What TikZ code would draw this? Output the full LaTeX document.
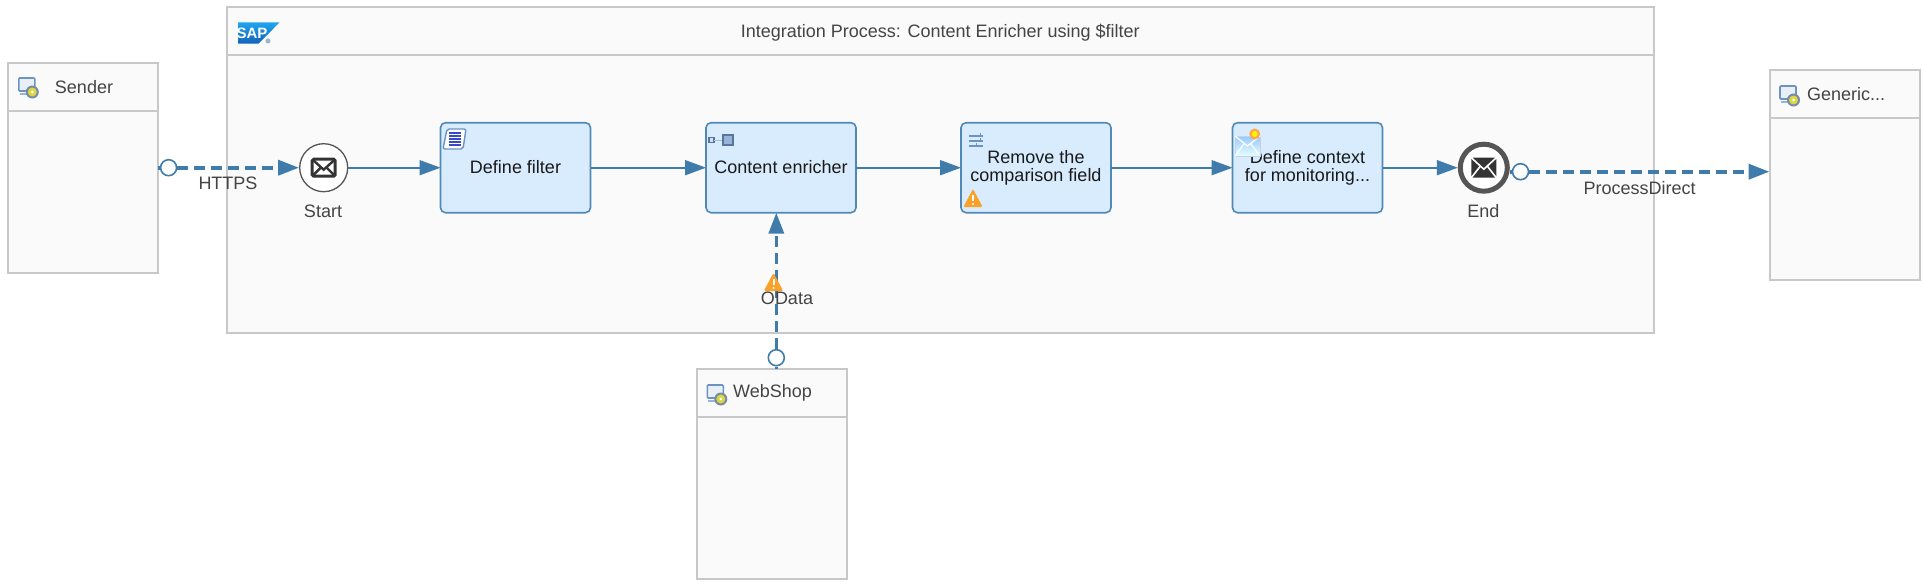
\documentclass[tikz,border=0pt]{standalone}
\usepackage{fontspec}
\setmainfont{Liberation Sans}
\usetikzlibrary{arrows.meta,calc}

\definecolor{flowblue}{HTML}{3F7CAC}
\definecolor{poolgrey}{HTML}{C8C8C8}
\definecolor{poolfill}{HTML}{FAFAFA}
\definecolor{taskfill}{HTML}{D8ECFE}
\definecolor{taskline}{HTML}{5089B8}
\definecolor{eventgrey}{HTML}{555555}
\definecolor{warnorange}{HTML}{F9A129}
\definecolor{iconblue}{HTML}{6C93C4}
\definecolor{labelgrey}{HTML}{444444}
\definecolor{saptop}{HTML}{1EA6EE}
\definecolor{sapbottom}{HTML}{1262BA}

\tikzset{
    lbl/.style={font=\fontsize{18}{18}\selectfont,text=labelgrey,inner sep=0pt},
    tasktext/.style={font=\fontsize{18}{18}\selectfont,text=black!90,align=center},
    pool/.style={draw=poolgrey,fill=poolfill,line width=2pt,inner sep=0pt,outer sep=0pt},
    task/.style={tasktext,draw=taskline,fill=taskfill,line width=1.6pt,rounded corners=5pt,
        minimum width=150pt,minimum height=90pt,inner sep=0pt,outer sep=0pt},
    startevent/.style={circle,draw=eventgrey,fill=white,line width=1.3pt,minimum size=48pt,inner sep=0pt},
    endevent/.style={circle,draw=eventgrey,fill=white,line width=5pt,minimum size=47pt,inner sep=0pt},
    port/.style={circle,draw=flowblue,fill=white,line width=1.6pt,minimum size=16pt,inner sep=0pt},
    seqflow/.style={draw=flowblue,line width=1.8pt,-{Triangle[length=21pt,width=15pt]}},
    msgflow/.style={draw=flowblue,line width=3.6pt,dash pattern=on 11pt off 6pt,-{Triangle[length=21pt,width=15pt]}},
    msgstub/.style={draw=flowblue,line width=3.6pt},
    adapter/.pic={
        \draw[iconblue,fill=white!85!iconblue,line width=1.6pt,rounded corners=1pt] (0,0) rectangle (16,13);
        \draw[iconblue!70,line width=1.6pt] (1,16) -- (11,16);
        \fill[iconblue!60!gray] (13.5,14) circle (6.5);
        \fill[yellow!70!gray] (13.5,14) circle (4.5);
        \fill[white] (13.5,14) circle (1.5);
    },
    warnicon/.pic={
        \fill[warnorange,draw=warnorange,line width=2pt,line join=round] (9,1) -- (17,16) -- (1,16) -- cycle;
        \draw[white,line width=2pt] (9,5) -- (9,11);
        \fill[white] (9,14) circle (1.2);
    },
    mailicon/.pic={
        \draw[black!80,fill=white,line width=3pt,rounded corners=1.5pt] (-11.5,-8.5) rectangle (11.5,8.5);
        \draw[black!80,line width=2.4pt] (-11,-8) -- (0,2) -- (11,-8) (-11,8) -- (-3,0) (11,8) -- (3,0);
    },
    mailfilled/.pic={
        \fill[black!80,rounded corners=1.5pt] (-12.5,-10) rectangle (12.5,10);
        \draw[white,line width=1.6pt] (-12.5,-10) -- (0,1.5) -- (12.5,-10) (-12.5,10) -- (-3.5,-1.5) (12.5,10) -- (3.5,-1.5);
    },
    scripticon/.pic={
        \draw[iconblue,fill=white,line width=1.4pt,rounded corners=2pt] (4,0) -- (23,0) -- (20,20) -- (0,20) -- cycle;
        \foreach \ly in {4,7,10,13,16}
            \draw[blue!45!iconblue!90!black,line width=1.5pt] (6,\ly) -- (18,\ly);
    },
    enrichicon/.pic={
        \draw[iconblue!80!black,fill=iconblue!30,line width=1.4pt] (0,2.5) rectangle (5,7.5);
        \draw[iconblue!60,line width=1pt] (5,5) -- (14,5);
        \draw[iconblue!80!black,fill=iconblue!70,line width=1.4pt] (14,0) rectangle (24,10);
    },
    filtericon/.pic={
        \foreach \ly in {3,8,13}
            \draw[iconblue,line width=1.5pt] (0,\ly) -- (14,\ly);
        \draw[iconblue,line width=1pt] (11,0) -- (11,3) (11,5) -- (11,8) (7,10) -- (7,13);
    },
    envelopeicon/.pic={
        \shade[top color=cyan!45!blue!40,bottom color=cyan!10!white,draw=iconblue!40,line width=0.6pt] (0,6) -- (25,6) -- (25,26) -- (0,26) -- cycle;
        \draw[white,line width=1.2pt] (0,6) -- (12.5,16) -- (25,6) (0,26) -- (9,14) (25,26) -- (16,14);
        \fill[orange!70] (19.7,4) circle (5.5);
        \fill[yellow] (19.7,4) circle (3);
    }
}

\begin{document}
\begin{tikzpicture}[x=1pt,y=-1pt]
    \useasboundingbox (0,0) rectangle (1924,586);

    \node[pool,minimum width=1426.5pt,minimum height=325.5pt] (process) at (940.3,169.8) {};
    \node[pool,minimum width=150pt,minimum height=210pt] (sender) at (83,167.7) {};
    \node[pool,minimum width=150pt,minimum height=210pt] (webshop) at (772,474) {};
    \node[pool,minimum width=150pt,minimum height=210pt] (generic) at (1844.5,175.2) {};

    \foreach \boxname in {process,sender,webshop,generic}
        \draw[poolgrey,line width=2pt] ($(\boxname.north west)+(0,48)$) -- ($(\boxname.north east)+(0,48)$);

    \node[lbl] (processtitle) at (940.3,32.5) {Integration Process: Content Enricher using \$filter};
    \node[lbl] (sendertitle) at (84,86.7) {Sender};
    \node[lbl] (webshoptitle) at (772.5,393) {WebShop};
    \node[lbl] (generictitle) at (1846,94) {Generic...};

    \pic at (18.8,78) {adapter};
    \pic at (707.3,385) {adapter};
    \pic at (1780,86) {adapter};

    \shade[top color=saptop,bottom color=sapbottom] (238,22.3) -- (279.6,22.3) -- (258.5,43.7) -- (238,43.7) -- cycle;
    \node[font=\bfseries\fontsize{15}{15}\selectfont,text=white,inner sep=0pt] (saplogo) at (252,33.5) {SAP};
    \fill[iconblue!70] (268,41) circle (2.5);

    \node[startevent] (start) at (323.7,167.7) {};
    \node[task] (definefilter) at (515.5,167.7) {\raisebox{1.5pt}{Define filter}};
    \node[task] (enricher) at (781,167.7) {\raisebox{1.5pt}{Content enricher}};
    \node[task] (removefield) at (1036,167.7) {Remove the\\comparison field};
    \node[task] (definecontext) at (1307.5,167.7) {Define context\\for monitoring...};
    \node[endevent] (end) at (1483.8,167.7) {};

    \pic at (start.center) {mailicon};
    \pic at (end.center) {mailfilled};
    \pic at (443,129) {scripticon};
    \pic at (709,135) {enrichicon};
    \pic at (969,133) {filtericon};
    \pic at (1235,130) {envelopeicon};
    \pic at (964,190) {warnicon};

    \node[port] (senderport) at (168.6,167.7) {};
    \node[port] (webshopport) at (776.3,357.7) {};
    \node[port] (endport) at (1520.5,171.7) {};

    \draw[seqflow] (start) -- (definefilter);
    \draw[seqflow] (definefilter) -- (enricher);
    \draw[seqflow] (enricher) -- (removefield);
    \draw[seqflow] (removefield) -- (definecontext);
    \draw[seqflow] (definecontext) -- (end);

    \draw[msgstub] (sender.east) -- (senderport);
    \draw[msgflow] (senderport) -- (start);
    \draw[msgstub] (webshop.north -| webshopport) -- (webshopport);
    \draw[msgflow] (webshopport) -- (enricher.south -| webshopport);
    \draw[msgstub] (end.east |- endport) -- (endport);
    \draw[msgflow] (endport) -- (generic.west |- endport);

    \pic at (764.5,274) {warnicon};

    \node[lbl] (httpslabel) at (228,183.7) {HTTPS};
    \node[lbl] (startlabel) at (323,211.5) {Start};
    \node[lbl] (odatalabel) at (787,298) {OData};
    \node[lbl] (endlabel) at (1483.4,211.5) {End};
    \node[lbl] (directlabel) at (1639.5,187.7) {ProcessDirect};
\end{tikzpicture}
\end{document}
